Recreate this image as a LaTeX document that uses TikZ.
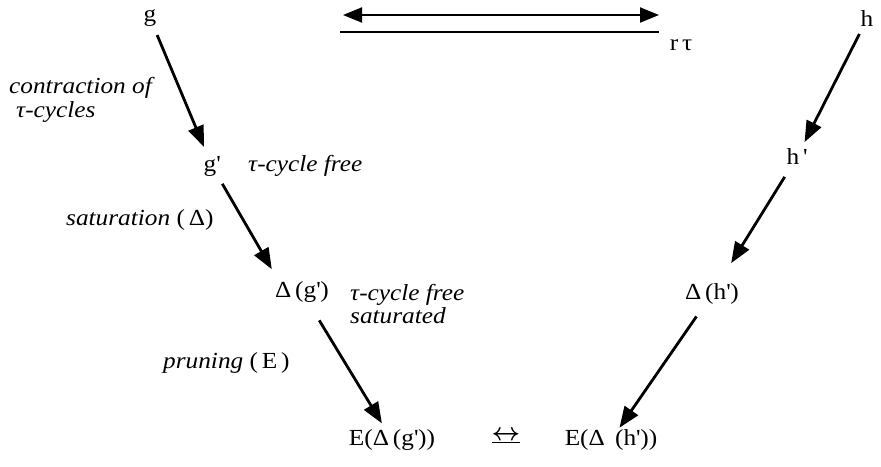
\documentclass[tikz,border=0pt]{standalone}
\usepackage{fontspec}
\setmainfont{Liberation Serif}[FakeStretch=1.1]
\usetikzlibrary{arrows.meta}
\newcommand{\pr}{\textquotesingle}
\begin{document}
\begin{tikzpicture}[x=1pt,y=-1pt,
  lbl/.style={font=\fontsize{23}{26}\selectfont, inner sep=0pt},
  ilbl/.style={font=\fontsize{23}{26}\selectfont\itshape, inner sep=0pt, anchor=west, align=left},
  flow/.style={line width=2.8pt, -{Triangle[length=21pt,width=16pt]}},
  dbl/.style={line width=2pt, {Triangle[length=19pt,width=15pt]}-{Triangle[length=19pt,width=15pt]}},
]
\useasboundingbox[fill=white] (0,0) rectangle (881,466);
% nodes
\node[lbl] (g)   at (150,18)  {g};
\node[lbl] (h)   at (867,19)  {h};
\node[lbl] (gp)  at (212,166) {g\pr};
\node[lbl] (hp)  at (797,157) {h\,\pr};
\node[lbl] (dg)  at (302,292) {Δ\,(g\pr)};
\node[lbl] (dh)  at (712,294) {Δ\,(h\pr)};
\node[lbl] (edg) at (392,440) {E(Δ\,(g\pr))};
\node[lbl] (edh) at (611,440) {E(Δ\;\,(h\pr))};
\node[lbl, font=\fontsize{30}{30}\selectfont\boldmath] (eq) at (506,437) {\underline{$\leftrightarrow$}};
\node[lbl] (rt)  at (681,45)  {r\,τ};
% labels
\node[ilbl] (l1) at (9,100) {contraction of\\[-2pt]\hspace*{7pt}τ-cycles};
\node[ilbl] (l2) at (248,166) {τ-cycle free};
\node[ilbl] (l3) at (66,220) {saturation \upshape(\,Δ)};
\node[ilbl] (l4) at (350,304) {τ-cycle free\\[-3pt]saturated};
\node[ilbl] (l5) at (163,363) {pruning \upshape(\,E\,)};
% top relation
\coordinate (ra) at (343,15);
\coordinate (rb) at (659,15);
\coordinate (ua) at (340,32);
\coordinate (ub) at (659,32);
\draw[dbl] (ra) -- (rb);
\draw[line width=2pt] (ua) -- (ub);
% flows
\draw[flow, shorten <=18.5pt, shorten >=20.7pt] (g.center) -- (gp.center);
\draw[flow, shorten <=20.6pt, shorten >=26.3pt] (gp.center) -- ([xshift=-17pt]dg.center);
\draw[flow, shorten <=33.2pt, shorten >=19.4pt] (dg.center) -- (edg.center);
\draw[flow, shorten <=16.7pt, shorten >=16.7pt] (h.center) -- (hp.center);
\draw[flow, shorten <=23.4pt, shorten >=36.3pt] (hp.center) -- (dh.center);
\draw[flow, shorten <=27.3pt, shorten >=14.9pt] (dh.center) -- (edh.center);
\end{tikzpicture}
\end{document}
